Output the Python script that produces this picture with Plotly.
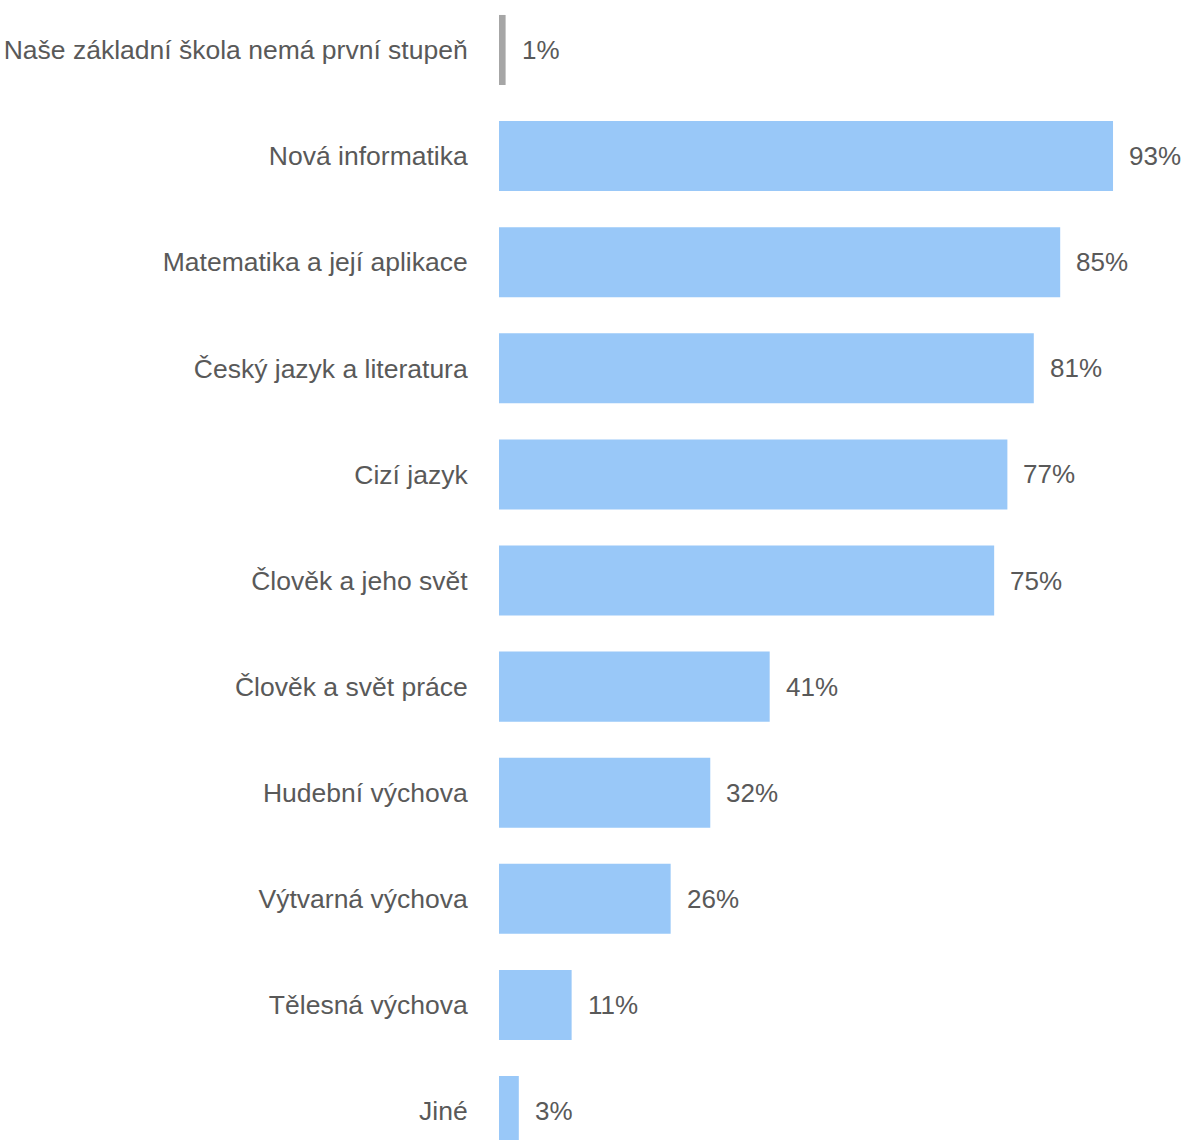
import plotly.graph_objects as go

categories = [
    "Naše základní škola nemá první stupeň",
    "Nová informatika",
    "Matematika a její aplikace",
    "Český jazyk a literatura",
    "Cizí jazyk",
    "Člověk a jeho svět",
    "Člověk a svět práce",
    "Hudební výchova",
    "Výtvarná výchova",
    "Tělesná výchova",
    "Jiné",
]
values = [1, 93, 85, 81, 77, 75, 41, 32, 26, 11, 3]
labels = ["1%", "93%", "85%", "81%", "77%", "75%", "41%", "32%", "26%", "11%", "3%"]
colors = ["#A6A6A6"] + ["#99C8F8"] * 10

FONT = "Liberation Sans, Arial, sans-serif"
TEXT_COLOR = "#595959"

fig = go.Figure()
fig.add_trace(go.Bar(
    x=values,
    y=list(range(len(categories))),
    orientation="h",
    marker=dict(color=colors, line=dict(width=0)),
    width=0.66,
    hoverinfo="skip",
))

for i, (v, t) in enumerate(zip(values, labels)):
    fig.add_annotation(
        x=v, y=i, text=t, showarrow=False,
        xanchor="left", yanchor="middle", xshift=14,
        font=dict(family=FONT, size=26, color=TEXT_COLOR),
    )

fig.update_layout(
    width=1183,
    height=1140,
    margin=dict(l=499, r=0, t=0, b=0),
    paper_bgcolor="white",
    plot_bgcolor="white",
    showlegend=False,
    font=dict(family=FONT, size=26, color=TEXT_COLOR),
    xaxis=dict(range=[0, 103.6], visible=False, fixedrange=True),
    yaxis=dict(
        range=[10.273, -0.471],
        tickmode="array",
        tickvals=list(range(len(categories))),
        ticktext=categories,
        ticks="outside",
        ticklen=25,
        tickcolor="rgba(0,0,0,0)",
        showgrid=False,
        zeroline=False,
        showline=False,
        tickfont=dict(family=FONT, size=26.5, color=TEXT_COLOR),
    ),
)

fig.write_html("out.html")
